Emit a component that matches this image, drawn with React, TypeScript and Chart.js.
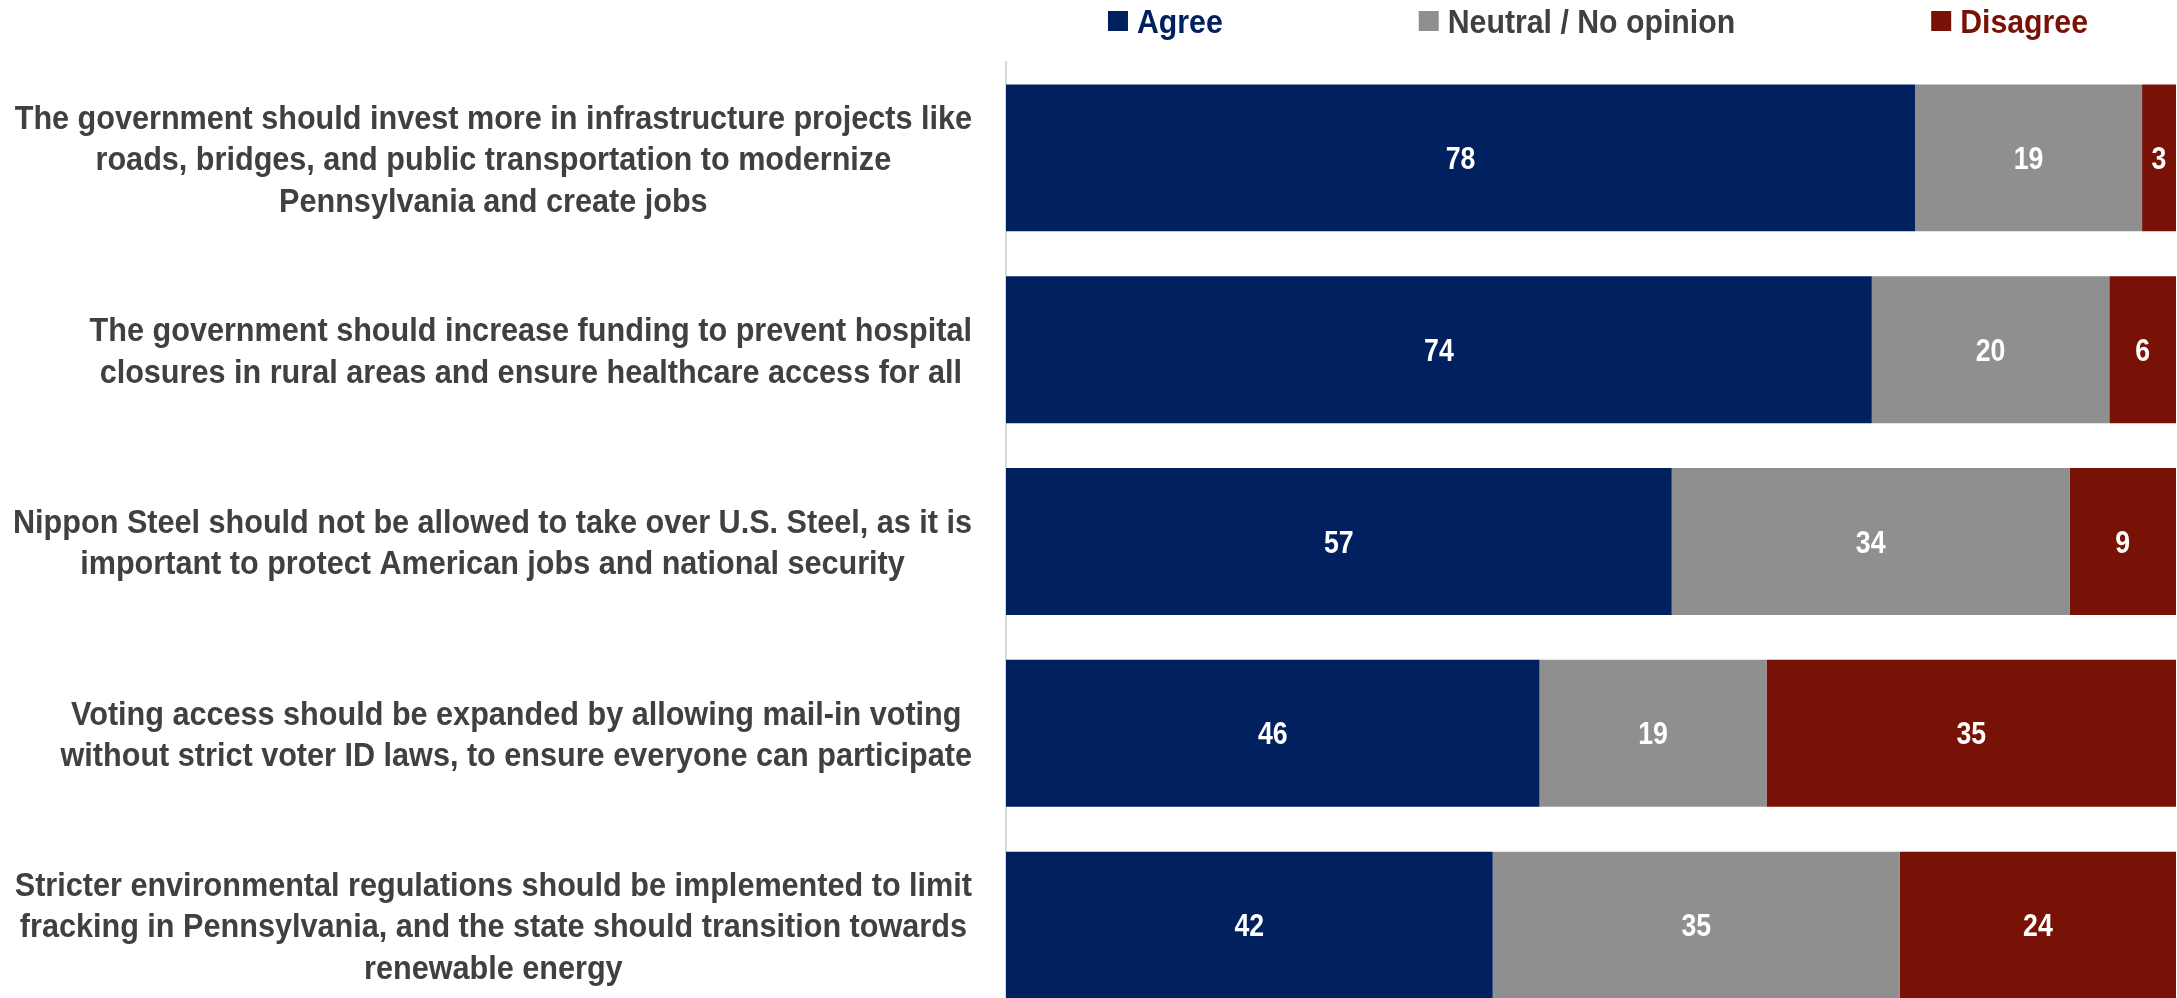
import React, { useEffect, useRef } from 'react';
import { Chart, registerables } from 'chart.js';

Chart.register(...registerables);

const categories: string[][] = [
  [
    'The government should invest more in infrastructure projects like',
    'roads, bridges, and public transportation to modernize',
    'Pennsylvania and create jobs',
  ],
  [
    'The government should increase funding to prevent hospital',
    'closures in rural areas and ensure healthcare access for all',
  ],
  [
    'Nippon Steel should not be allowed to take over U.S. Steel, as it is',
    'important to protect American jobs and national security',
  ],
  [
    'Voting access should be expanded by allowing mail-in voting',
    'without strict voter ID laws, to ensure everyone can participate',
  ],
  [
    'Stricter environmental regulations should be implemented to limit',
    'fracking in Pennsylvania, and the state should transition towards',
    'renewable energy',
  ],
];

const seriesNames = ['Agree', 'Neutral / No opinion', 'Disagree'];
const agree = [77.7, 74.0, 56.9, 45.6, 41.6];
const neutral = [19.4, 20.3, 34.0, 19.4, 34.8];
const disagree = [2.9, 5.7, 9.1, 35.0, 23.6];

const barColors = ['#002060', '#8F8F8F', '#781206'];
const legendTextColors = ['#002060', '#404040', '#781206'];
const labelColor = '#404040';
const FAMILY = '"Liberation Sans", Arial, "DejaVu Sans", sans-serif';

function drawScaled(
  ctx: CanvasRenderingContext2D,
  text: string,
  x: number,
  y: number,
  sx: number,
  align: CanvasTextAlign
) {
  ctx.save();
  ctx.translate(x, y);
  ctx.scale(sx, 1);
  ctx.textAlign = align;
  ctx.fillText(text, 0, 0);
  ctx.restore();
}

const categoryLabelPlugin = {
  id: 'categoryLabels',
  afterDraw(chart: any) {
    const ctx: CanvasRenderingContext2D = chart.ctx;
    const yScale = chart.scales.y;
    const area = chart.chartArea;
    const size = 34;
    const sx = 0.9;
    const lh = 41.5;
    const cap = size * 0.716;
    ctx.save();
    ctx.font = `bold ${size}px ${FAMILY}`;
    ctx.fillStyle = labelColor;
    ctx.textBaseline = 'alphabetic';
    const right = area.left - 34;
    categories.forEach((lines, i) => {
      const yc = yScale.getPixelForTick(i);
      const widest = Math.max(...lines.map((l) => ctx.measureText(l).width)) * sx;
      const cx = right - widest / 2;
      const n = lines.length;
      lines.forEach((line, k) => {
        const y = yc + (k - (n - 1) / 2) * lh + cap / 2;
        drawScaled(ctx, line, cx, y, sx, 'center');
      });
    });
    ctx.restore();
  },
};

const valueLabelPlugin = {
  id: 'valueLabels',
  afterDatasetsDraw(chart: any) {
    const ctx: CanvasRenderingContext2D = chart.ctx;
    const area = chart.chartArea;
    const size = 31;
    const sx = 0.86;
    ctx.save();
    ctx.font = `bold ${size}px ${FAMILY}`;
    ctx.fillStyle = '#FFFFFF';
    ctx.textBaseline = 'alphabetic';
    chart.data.datasets.forEach((ds: any, di: number) => {
      const meta = chart.getDatasetMeta(di);
      meta.data.forEach((el: any, i: number) => {
        const { x, base, y } = el.getProps(['x', 'base', 'y'], true);
        const x0 = Math.max(Math.min(x, base), area.left);
        const x1 = Math.min(Math.max(x, base), area.right);
        const cx = (x0 + x1) / 2;
        drawScaled(ctx, String(Math.round(ds.data[i])), cx, y + (size * 0.716) / 2, sx, 'center');
      });
    });
    ctx.restore();
  },
};

const legendPlugin = {
  id: 'customLegend',
  afterDraw(chart: any) {
    const ctx: CanvasRenderingContext2D = chart.ctx;
    const area = chart.chartArea;
    const size = 34;
    const sx = 0.89;
    const box = 20;
    const gapText = 9;
    const gapItem = 196;
    ctx.save();
    ctx.font = `bold ${size}px ${FAMILY}`;
    ctx.textBaseline = 'alphabetic';
    const widths = chart.data.datasets.map((ds: any) => ctx.measureText(ds.label).width * sx);
    const total =
      widths.reduce((a: number, w: number) => a + box + gapText + w, 0) + gapItem * (widths.length - 1);
    let x = (area.left + area.right) / 2 - total / 2 + 7;
    const boxTop = 11;
    const textY = 21 + (size * 0.716) / 2;
    chart.data.datasets.forEach((ds: any, i: number) => {
      ctx.fillStyle = ds.backgroundColor;
      ctx.fillRect(x, boxTop, box, box);
      ctx.fillStyle = legendTextColors[i];
      drawScaled(ctx, ds.label, x + box + gapText, textY, sx, 'left');
      x += box + gapText + widths[i] + gapItem;
    });
    ctx.restore();
  },
};

export default function App() {
  const canvasRef = useRef<HTMLCanvasElement | null>(null);

  useEffect(() => {
    document.body.style.margin = '0';
    const canvas = canvasRef.current;
    if (!canvas) return;
    const chart = new Chart(canvas, {
      type: 'bar',
      data: {
        labels: categories.map((c) => c.join(' ')),
        datasets: [
          { label: seriesNames[0], data: agree, backgroundColor: barColors[0] },
          { label: seriesNames[1], data: neutral, backgroundColor: barColors[1] },
          { label: seriesNames[2], data: disagree, backgroundColor: barColors[2] },
        ],
      },
      options: {
        indexAxis: 'y',
        responsive: false,
        animation: false,
        devicePixelRatio: 1,
        datasets: {
          bar: {
            barPercentage: 0.766,
            categoryPercentage: 1,
            borderWidth: 0,
          },
        },
        layout: { padding: { left: 1006, right: 1, top: 62, bottom: 0 } },
        scales: {
          x: {
            type: 'linear',
            stacked: true,
            min: 0,
            max: 100,
            display: false,
          },
          y: {
            type: 'category',
            stacked: true,
            grid: { display: false, drawTicks: false },
            ticks: { display: false },
            border: { display: true, color: '#D9D9D9', width: 2 },
          },
        },
        plugins: {
          legend: { display: false },
          tooltip: { enabled: false },
        },
      },
      plugins: [categoryLabelPlugin, valueLabelPlugin, legendPlugin],
    });
    return () => {
      chart.destroy();
    };
  }, []);

  return (
    <div style={{ width: 2177, height: 998, overflow: 'hidden', position: 'relative', background: '#FFFFFF' }}>
      <canvas
        ref={canvasRef}
        width={2177}
        height={1021}
        style={{ display: 'block', width: 2177, height: 1021 }}
      />
    </div>
  );
}
